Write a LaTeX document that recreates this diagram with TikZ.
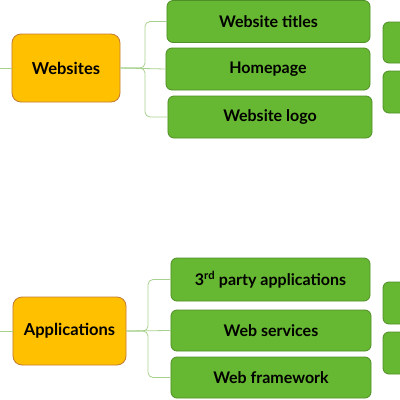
\documentclass[tikz,border=0pt]{standalone}
\usepackage{fontspec}
\setmainfont{Lato}
\begin{document}
\begin{tikzpicture}[x=1bp,y=-1bp,
  topic/.style={draw=orange!70!black!80, line width=0.8bp, fill=gold, rounded corners=9bp, font=\fontsize{16.5bp}{19bp}\selectfont\bfseries},
  leaf/.style={draw=leafborder, line width=0.8bp, fill=leafgreen, rounded corners=6bp, font=\fontsize{16bp}{19bp}\selectfont\bfseries},
  conn/.style={draw=linkgreen, line width=0.8bp, rounded corners=5bp}]
\definecolor{gold}{HTML}{FFC000}
\definecolor{leafgreen}{HTML}{66B731}
\definecolor{leafborder}{HTML}{4F8F27}
\definecolor{linkgreen}{HTML}{A9D18E}
\useasboundingbox (0,0) rectangle (400,400);
% top group
\node[topic, minimum width=108bp, minimum height=68bp] (web) at (66,68) {Websites};
\node[leaf, minimum width=203bp, minimum height=42bp] (t1) at (268.5,21.5) {Website titles};
\node[leaf, minimum width=204bp, minimum height=42bp] (t2) at (268,69) {Homepage};
\node[leaf, minimum width=204bp, minimum height=42bp] (t3) at (270,117) {Website logo};
\node[leaf, minimum width=30bp, minimum height=41bp] (r1) at (398,42.5) {};
\node[leaf, minimum width=30bp, minimum height=42bp] (r2) at (398,92) {};
\coordinate (lw) at (0,68);
\draw[conn] (lw) -- (web.west);
\draw[conn] (web.east) -- (145,68) |- (t1.west);
\draw[conn] (web.east) -- (t2.west);
\draw[conn] (web.east) -- (145,68) |- (t3.west);
% bottom group
\node[topic, minimum width=113bp, minimum height=68bp] (app) at (69.5,331) {Applications};
\node[leaf, minimum width=199bp, minimum height=43bp] (b1) at (270.5,279.5) {3\textsuperscript{rd} party applications};
\node[leaf, minimum width=200bp, minimum height=41bp] (b2) at (271,330.5) {Web services};
\node[leaf, minimum width=200bp, minimum height=41bp] (b3) at (271,377.5) {Web framework};
\node[leaf, minimum width=30bp, minimum height=42bp] (r3) at (398,303) {};
\node[leaf, minimum width=30bp, minimum height=42bp] (r4) at (398,353) {};
\coordinate (la) at (0,331);
\draw[conn] (la) -- (app.west);
\draw[conn] (app.east) -- (148,331) |- (b1.west);
\draw[conn] (app.east) -- (b2.west);
\draw[conn] (app.east) -- (148,331) |- (b3.west);
\end{tikzpicture}
\end{document}
